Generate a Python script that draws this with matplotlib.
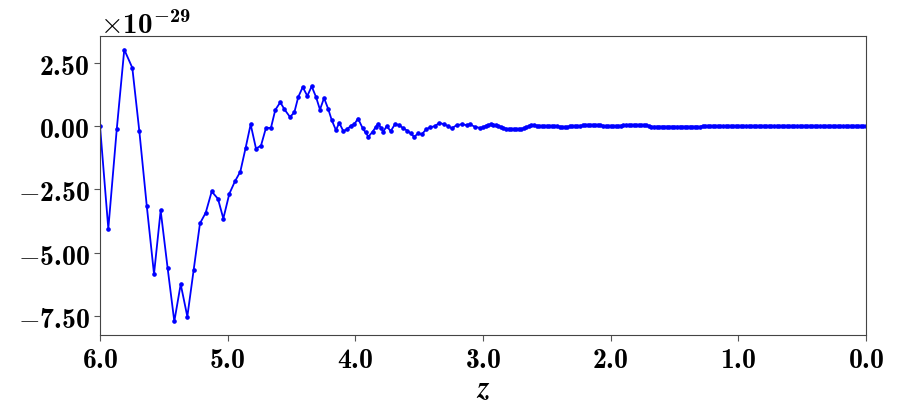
import numpy as np
import matplotlib
matplotlib.use("Agg")
import matplotlib.pyplot as plt
from matplotlib.ticker import FuncFormatter, MultipleLocator

# bold Computer Modern for every math label
plt.rcParams["mathtext.fontset"] = "custom"
plt.rcParams["mathtext.rm"] = "cmb10"
plt.rcParams["mathtext.bf"] = "cmb10"
plt.rcParams["mathtext.it"] = "cmmi10"
plt.rcParams["mathtext.fallback"] = "cm"

# redshift samples, z > 3
z_head = [6.000, 5.935, 5.869, 5.810, 5.747, 5.692, 5.634, 5.577, 5.525, 5.470,
          5.418, 5.368, 5.316, 5.266, 5.217, 5.172, 5.125, 5.076, 5.034, 4.987,
          4.943, 4.901, 4.859, 4.820, 4.778, 4.739, 4.700, 4.661, 4.627, 4.588,
          4.555, 4.512, 4.478, 4.447, 4.412, 4.376, 4.342, 4.308, 4.277, 4.245,
          4.212, 4.185, 4.152, 4.126, 4.094, 4.063, 4.034, 4.008, 3.979, 3.942,
          3.920, 3.898, 3.864, 3.842, 3.820, 3.799, 3.781, 3.754, 3.723, 3.689,
          3.656, 3.624, 3.593, 3.566, 3.540, 3.507, 3.480, 3.446, 3.415, 3.376,
          3.342, 3.305, 3.272, 3.245, 3.206, 3.167, 3.128, 3.102, 3.063, 3.023]
val_head = [0.00, -4.05, -0.13, 3.02, 2.30, -0.20, -3.14, -5.84, -3.33, -5.62,
            -7.71, -6.24, -7.52, -5.67, -3.84, -3.42, -2.58, -2.87, -3.65, -2.67,
            -2.18, -1.80, -0.85, 0.07, -0.89, -0.77, -0.07, -0.07, 0.64, 0.94,
            0.66, 0.36, 0.54, 1.15, 1.54, 1.19, 1.57, 1.15, 0.65, 1.11,
            0.67, 0.24, -0.16, 0.13, -0.20, -0.12, 0.02, 0.07, 0.30, -0.09,
            -0.25, -0.42, -0.22, -0.05, 0.10, -0.08, -0.22, 0.00, -0.20, 0.08,
            0.04, -0.09, -0.18, -0.29, -0.42, -0.29, -0.33, -0.13, -0.05, 0.00,
            0.13, 0.07, 0.00, -0.09, 0.04, 0.07, 0.04, 0.07, -0.03, -0.07]

# z = 3.00 ... 0.00, every 0.02
z_tail = np.round(np.arange(150, -1, -1) * 0.02, 2)
val_tail = [-0.05, 0.01, 0.04, 0.07, 0.06, 0.03, 0.00, -0.03, -0.07, -0.10,
            -0.12, -0.12, -0.12, -0.13, -0.13, -0.11, -0.09, -0.04, 0.00, 0.03,
            0.04, 0.02, 0.01, 0.01, 0.01, 0.01, 0.01, 0.01, 0.01, 0.01,
            -0.02, -0.03, -0.03, -0.03, -0.01, 0.01, 0.01, 0.01, 0.01, 0.03,
            0.05, 0.05, 0.05, 0.05, 0.05, 0.05, 0.04, 0.02, 0.00, 0.00,
            0.01, 0.00, 0.00, 0.01, 0.02, 0.04, 0.05, 0.05, 0.05, 0.05,
            0.05, 0.05, 0.05, 0.05, 0.03, 0.01, -0.02, -0.02, -0.02, -0.02,
            -0.02, -0.02, -0.02, -0.02, -0.02, -0.02, -0.02, -0.02, -0.02, -0.02,
            -0.02, -0.02, -0.02, -0.02, -0.02, -0.03, 0.01, 0.01, 0.01, 0.01,
            0.01, 0.01, 0.01, 0.01, 0.01, 0.01, 0.01, 0.01, 0.01, 0.01,
            0.01, 0.01, 0.01, 0.01, 0.01, 0.01, 0.01, 0.01, 0.01, 0.01,
            0.01, 0.01, 0.01, 0.01, 0.01, 0.01, 0.01, 0.01, 0.01, 0.01,
            0.01, 0.01, 0.01, 0.01, 0.01, 0.01, 0.01, 0.01, 0.01, 0.01,
            0.01, 0.01, 0.01, 0.01, 0.01, 0.01, 0.01, 0.01, 0.01, 0.01,
            0.01, 0.01, 0.01, 0.01, 0.01, 0.01, 0.01, 0.01, 0.01, 0.01,
            0.01]

SCALE = 1e-29

z = np.concatenate([z_head, z_tail])
vals = np.array(val_head + val_tail) * SCALE


def ytick_fmt(v, _):
    v = round(v / SCALE, 2)
    if v == 0:
        v = 0.0
    return r"$\mathbf{%.2f}$" % v


def xtick_fmt(v, _):
    return r"$\mathbf{%.1f}$" % abs(v)


fig = plt.figure(figsize=(8.97, 4.14), dpi=100)
ax = fig.add_axes([0.1115, 0.1884, 0.8539, 0.7222])

ax.plot(z, vals, color="#0000ff", lw=1.3, marker="o", ms=2.3)

ax.set_xlim(6.0, 0.0)
ax.xaxis.set_major_locator(MultipleLocator(1.0))
ax.yaxis.set_major_locator(MultipleLocator(2.5 * SCALE))
ax.xaxis.set_major_formatter(FuncFormatter(xtick_fmt))
ax.yaxis.set_major_formatter(FuncFormatter(ytick_fmt))
ax.yaxis.offsetText.set_visible(False)
ax.tick_params(labelsize=20, color="#555555", length=4)
for sp in ax.spines.values():
    sp.set_color("#444444")

ax.set_xlabel("z", family="STIXGeneral", style="italic", weight="bold",
              fontsize=22, labelpad=0)
ax.text(0.0, 0.99, r"$\times\mathbf{10^{-29}}$", transform=ax.transAxes,
        ha="left", va="bottom", fontsize=21)

fig.savefig("out.png", dpi=100)
